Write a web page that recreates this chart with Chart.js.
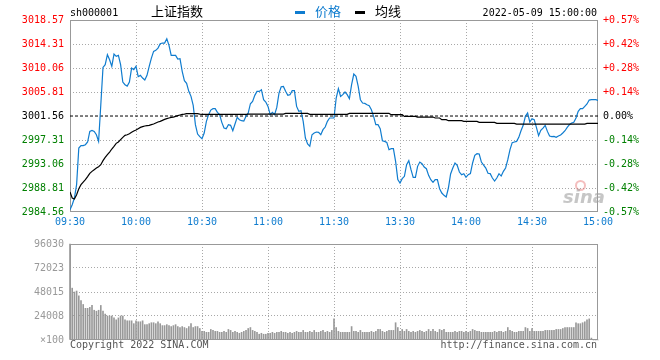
<!DOCTYPE html>
<html><head><meta charset="utf-8">
<script src="https://cdn.jsdelivr.net/npm/chart.js@4.4.1/dist/chart.umd.min.js"></script>
<style>
body{margin:0;background:#fff;width:660px;height:360px;overflow:hidden;position:relative;font-family:'DejaVu Sans Mono',monospace;}
.t{position:absolute;white-space:nowrap;font-family:'DejaVu Sans Mono',monospace;font-size:10px;line-height:12px;}
.cjk{position:absolute;white-space:nowrap;font-family:'Noto Sans CJK SC',sans-serif;font-size:13px;line-height:13px;}
#c1{position:absolute;left:0;top:0;}
#c2{position:absolute;left:0;top:232px;}
</style></head><body>
<canvas id="c1" width="660" height="232"></canvas>
<canvas id="c2" width="660" height="128"></canvas>
<div class="t" style="left:70px;top:7px;color:#000">sh000001</div>
<div class="cjk" style="left:151px;top:4px;color:#000">上证指数</div>
<div style="position:absolute;left:295px;top:11px;width:10px;height:3px;background:#0f7ccf"></div>
<div class="cjk" style="left:315px;top:4px;color:#0f7ccf">价格</div>
<div style="position:absolute;left:355px;top:11px;width:10px;height:3px;background:#000"></div>
<div class="cjk" style="left:375px;top:4px;color:#000">均线</div>
<div class="t" style="right:63px;top:7px;color:#000">2022-05-09 15:00:00</div>
<div style="position:absolute;left:575px;top:180px;width:7px;height:7px;border:2px solid rgba(230,110,110,0.45);border-radius:50%"></div>
<div style="position:absolute;left:563px;top:186px;font:italic bold 18px 'DejaVu Sans',sans-serif;color:rgba(160,160,160,0.6)">sina</div>
<div class="t" style="left:70px;top:339px;color:#555">Copyright 2022 SINA.COM</div>
<div class="t" style="right:63px;top:339px;color:#555">http://finance.sina.com.cn</div>
<script>
const prevClose = 3001.56;
const priceTicks = [3018.57, 3014.31, 3010.06, 3005.81, 3001.56, 2997.31, 2993.06, 2988.81, 2984.56];
const pctLabels = ['+0.57%','+0.42%','+0.28%','+0.14%','0.00%','-0.14%','-0.28%','-0.42%','-0.57%'];
const timeLabels = ['09:30','10:00','10:30','11:00','11:30','13:30','14:00','14:30','15:00'];
const timeTickIdx = [0,30,60,90,120,150,180,210,240];
const volTicks = [96030, 72023, 48015, 24008, 0];
const volLabels = ['96030','72023','48015','24008','×100'];

const prices = [
2984.97,2985.86,2987.04,2989.40,2995.89,2996.31,2996.31,2996.48,2996.96,2998.84,
2999.02,2998.84,2998.25,2997.07,3003.57,3010.18,3010.65,3012.42,3011.54,3010.36,
3012.54,3012.13,3012.30,3010.65,3007.58,3007.11,3006.87,3007.58,3010.06,3009.77,
3010.36,3008.53,3008.76,3008.29,3007.94,3008.76,3010.36,3011.83,3013.01,3013.19,
3013.60,3014.37,3014.49,3014.49,3015.25,3014.07,3012.30,3012.30,3012.30,3011.65,
3011.71,3009.47,3007.82,3007.34,3005.93,3005.04,3003.45,3000.03,2998.37,2997.90,
2997.55,2998.55,3000.62,3001.80,3002.62,3002.86,3002.86,3002.21,3001.80,3000.44,
2999.43,2999.32,3000.03,2999.91,2998.96,3000.14,3001.32,3000.91,3000.73,3000.67,
3001.50,3002.09,3003.74,3004.16,3005.22,3005.93,3005.93,3006.22,3004.45,3004.04,
3003.27,3001.80,3002.21,3001.80,3003.09,3005.63,3006.75,3006.81,3005.93,3005.22,
3005.34,3006.05,3006.05,3003.27,3002.39,3002.50,3000.62,2997.66,2996.60,2996.19,
2998.25,2998.55,2998.73,2998.67,2998.25,2999.14,2999.61,3000.62,3001.21,3001.21,
3001.21,3004.75,3006.40,3005.04,3005.34,3005.81,3005.34,3004.63,3007.11,3009.00,
3008.58,3006.81,3004.45,3003.86,3003.80,3003.57,3003.39,3002.68,3001.50,3000.03,
3000.03,2999.32,2997.19,2997.07,2996.90,2995.60,2995.78,2995.78,2993.53,2990.29,
2989.69,2990.46,2990.88,2992.94,2993.65,2992.06,2990.70,2990.70,2992.65,2993.41,
2993.12,2992.53,2992.23,2991.05,2990.29,2989.81,2990.29,2990.29,2988.69,2987.92,
2987.51,2987.22,2988.81,2991.29,2992.35,2993.24,2992.82,2991.64,2991.17,2991.35,
2990.70,2991.17,2991.35,2993.24,2994.59,2994.89,2994.83,2993.41,2992.88,2992.35,
2991.41,2991.35,2990.58,2990.05,2990.58,2991.35,2990.93,2991.76,2992.35,2993.83,
2995.60,2996.84,2996.96,2997.07,2997.78,2998.96,2999.91,3001.50,3002.09,3000.50,
3001.09,3000.91,2999.55,2998.08,2999.02,2999.43,2999.91,2998.84,2998.02,2997.90,
2997.96,2997.78,2998.02,2998.20,2998.55,2998.96,2999.55,3000.03,3000.32,3000.44,
3001.21,3002.39,3002.86,3002.86,3003.27,3003.69,3004.39,3004.45,3004.45,3004.45,
3004.33];

const avgPrices = [
2988.10,2987.04,2986.86,2987.63,2988.69,2989.40,2989.87,2990.29,2990.82,2991.41,
2991.76,2992.06,2992.35,2992.59,2992.94,2993.65,2994.24,2994.71,2995.18,2995.72,
2996.19,2996.72,2996.96,2997.37,2997.78,2998.14,2998.25,2998.43,2998.67,2998.90,
2999.08,2999.32,2999.55,2999.67,2999.79,2999.85,2999.91,3000.03,3000.14,3000.32,
3000.50,3000.62,3000.79,3000.97,3001.09,3001.21,3001.32,3001.38,3001.50,3001.62,
3001.74,3001.86,3001.91,3001.97,3001.97,3001.97,3001.97,3001.97,3001.97,3001.91,
3001.86,3001.86,3001.86,3001.86,3001.86,3001.86,3001.86,3001.86,3001.86,3001.86,
3001.86,3001.86,3001.86,3001.86,3001.86,3001.86,3001.86,3001.86,3001.86,3001.86,
3001.86,3001.91,3001.91,3001.91,3001.91,3001.91,3001.91,3001.91,3001.91,3001.91,
3001.91,3001.91,3001.91,3001.91,3001.91,3001.91,3001.91,3001.91,3002.03,3002.03,
3002.03,3002.03,3002.03,3002.03,3002.03,3002.03,3002.03,3002.03,3002.03,3001.86,
3001.86,3001.86,3001.86,3001.86,3001.86,3001.86,3001.86,3001.86,3001.86,3001.86,
3001.86,3001.86,3001.86,3001.86,3001.86,3001.86,3001.86,3002.03,3002.03,3002.03,
3002.03,3002.03,3002.03,3002.03,3002.03,3002.03,3002.03,3002.03,3002.03,3002.03,
3002.03,3002.03,3002.03,3002.03,3002.03,3002.03,3001.80,3001.80,3001.80,3001.80,
3001.80,3001.80,3001.50,3001.50,3001.50,3001.50,3001.50,3001.50,3001.38,3001.38,
3001.38,3001.38,3001.38,3001.38,3001.38,3001.38,3001.21,3001.21,3001.21,3000.91,
3000.91,3000.91,3000.73,3000.73,3000.73,3000.73,3000.73,3000.73,3000.73,3000.62,
3000.62,3000.62,3000.62,3000.62,3000.62,3000.62,3000.44,3000.44,3000.44,3000.44,
3000.44,3000.44,3000.44,3000.44,3000.26,3000.26,3000.26,3000.26,3000.26,3000.26,
3000.26,3000.26,3000.26,3000.14,3000.14,3000.14,3000.14,3000.14,3000.14,3000.14,
3000.14,3000.14,3000.14,3000.14,3000.14,3000.14,3000.14,3000.14,3000.14,3000.14,
3000.14,3000.14,3000.14,3000.14,3000.14,3000.14,3000.14,3000.14,3000.14,3000.14,
3000.14,3000.14,3000.14,3000.14,3000.14,3000.26,3000.26,3000.26,3000.26,3000.26,
3000.26];

const volumes = [
96030,51860,48020,48980,44170,39370,35530,31690,31690,32650,
34570,29770,28810,29770,34570,28810,25930,24010,24010,24010,
22090,20170,22090,24010,24010,20170,19210,19210,19210,16330,
19210,18250,18250,19210,15360,15360,16330,17290,17290,16330,
18250,16330,14400,14400,15360,14400,13440,14400,15360,13440,
12480,13440,12480,11520,13440,16330,12480,13440,13440,11520,
8640,8640,7680,7680,10560,9600,8640,8640,7680,7680,
8640,7680,10560,9600,7680,8640,7680,6720,7680,8640,
9600,11520,12480,9600,8640,7680,5760,6720,5760,5760,
6720,6720,7680,6720,7680,7680,8640,7680,7680,6720,
7680,6720,7680,8640,7680,7680,9600,7680,7680,8640,
7680,9600,7680,7680,8640,9600,7680,8640,7680,9600,
21120,12480,8640,7680,7680,7680,7680,7680,13440,8640,
8640,7680,9600,7680,7680,7680,7680,8640,7680,8640,
10560,10560,8640,7680,8640,9600,9600,9600,17280,12480,
8640,10560,8640,10560,8640,7680,8640,7680,8640,9600,
8640,7680,8640,10560,8640,10560,8640,7680,10560,9600,
10560,7680,7680,7680,7680,8640,7680,8640,8640,7680,
8640,7680,8640,10560,9600,8640,8640,7680,7680,7680,
7680,7680,7680,8640,7680,8640,8640,7680,8640,12480,
9600,8640,7680,7680,8640,8640,8640,12480,11520,8640,
11520,8640,8640,8640,8640,8640,9600,9600,9600,9600,
9600,10560,10560,10560,11520,12480,12480,12480,12480,12480,
17280,16320,16320,17280,18240,20160,21120,1920,0,0,
0];

const BLUE = '#0f7ccf';
const GRID = '#a8a8a8';
const CLEAR = 'rgba(0,0,0,0)';
const MONO = {family:'DejaVu Sans Mono', size:10};

const frame = {
  id:'frame',
  beforeDatasetsDraw(chart){
    const {ctx, chartArea:a} = chart;
    ctx.save();
    ctx.strokeStyle = '#999';
    ctx.lineWidth = 1;
    ctx.strokeRect(Math.round(a.left)+0.5, Math.round(a.top)+0.5, Math.round(a.right-a.left)-1, Math.round(a.bottom-a.top)-1);
    ctx.restore();
  }
};

function tickColor(i){ // ascending tick index: 0 bottom .. 8 top
  if (i > 4) return '#ff0000';
  if (i < 4) return '#008000';
  return '#000000';
}
const ascTicks = () => priceTicks.slice().reverse().map(v => ({value:v}));

new Chart(document.getElementById('c1'), {
  type:'line',
  data:{datasets:[
    {data: avgPrices.map((v,i)=>({x:i,y:v})), borderColor:'#000', borderWidth:1.2, pointRadius:0, tension:0},
    {data: prices.map((v,i)=>({x:i,y:v})), borderColor:BLUE, borderWidth:1.2, pointRadius:0, tension:0},
    {data: [{x:timeTickIdx[0],y:prevClose},{x:timeTickIdx[timeTickIdx.length-1],y:prevClose}], borderColor:'#000', borderWidth:1, borderDash:[3,2], pointRadius:0}
  ]},
  options:{
    animation:false, responsive:false, devicePixelRatio:1,
    layout:{padding:{top:20,left:0,right:0,bottom:0}},
    plugins:{legend:{display:false}, tooltip:{enabled:false}},
    scales:{
      x:{type:'linear', min:0, max:240,
        afterBuildTicks: s => { s.ticks = timeTickIdx.map(v=>({value:v})); },
        afterFit: s => { s.height = 20; },
        grid:{color: c => (c.index===0||c.index===8)?CLEAR:GRID, drawTicks:false, lineWidth:1},
        border:{display:false, dash:[1,2]},
        ticks:{autoSkip:false, maxRotation:0, padding:4, color:BLUE, font:MONO, callback:(v,i)=>timeLabels[i]}
      },
      y:{min:2984.56, max:3018.57,
        afterBuildTicks: s => { s.ticks = ascTicks(); },
        afterFit: s => { s.width = 70; },
        grid:{color: c => (c.index===0||c.index===8||c.index===4)?CLEAR:GRID, drawTicks:false, lineWidth:1},
        border:{display:false, dash:[1,2]},
        ticks:{autoSkip:false, padding:6, font:MONO, color: c => tickColor(c.index), callback:(v,i)=>priceTicks[8-i].toFixed(2)}
      },
      y2:{position:'right', min:2984.56, max:3018.57,
        afterBuildTicks: s => { s.ticks = ascTicks(); },
        afterFit: s => { s.width = 62; },
        grid:{drawOnChartArea:false, drawTicks:false},
        border:{display:false},
        ticks:{autoSkip:false, padding:5, font:MONO, color: c => tickColor(c.index), callback:(v,i)=>pctLabels[8-i]}
      }
    }
  },
  plugins:[frame]
});

new Chart(document.getElementById('c2'), {
  type:'bar',
  data:{datasets:[{data: volumes.map((v,i)=>({x:i,y:v})), backgroundColor:'#999', barThickness:1, borderWidth:0, clip:false}]},
  options:{
    animation:false, responsive:false, devicePixelRatio:1,
    layout:{padding:{top:8,left:0,right:62,bottom:0}},
    plugins:{legend:{display:false}, tooltip:{enabled:false}},
    scales:{
      x:{type:'linear', min:0, max:240, offset:false,
        afterBuildTicks: s => { s.ticks = timeTickIdx.map(v=>({value:v})); },
        afterFit: s => { s.height = 20; },
        grid:{offset:false, color: c => (c.index===0||c.index===8)?CLEAR:GRID, drawTicks:false},
        border:{display:false, dash:[1,2]},
        ticks:{display:false}
      },
      y:{min:0, max:96030,
        afterBuildTicks: s => { s.ticks = volTicks.slice().reverse().map(v=>({value:v})); },
        afterFit: s => { s.width = 70; },
        grid:{color: c => (c.index===0||c.index===4)?CLEAR:GRID, drawTicks:false},
        border:{display:false, dash:[1,2]},
        ticks:{autoSkip:false, padding:6, font:MONO, color:'#999', callback:(v,i)=>volLabels[4-i]}
      }
    }
  },
  plugins:[frame]
});
</script>
</body></html>
